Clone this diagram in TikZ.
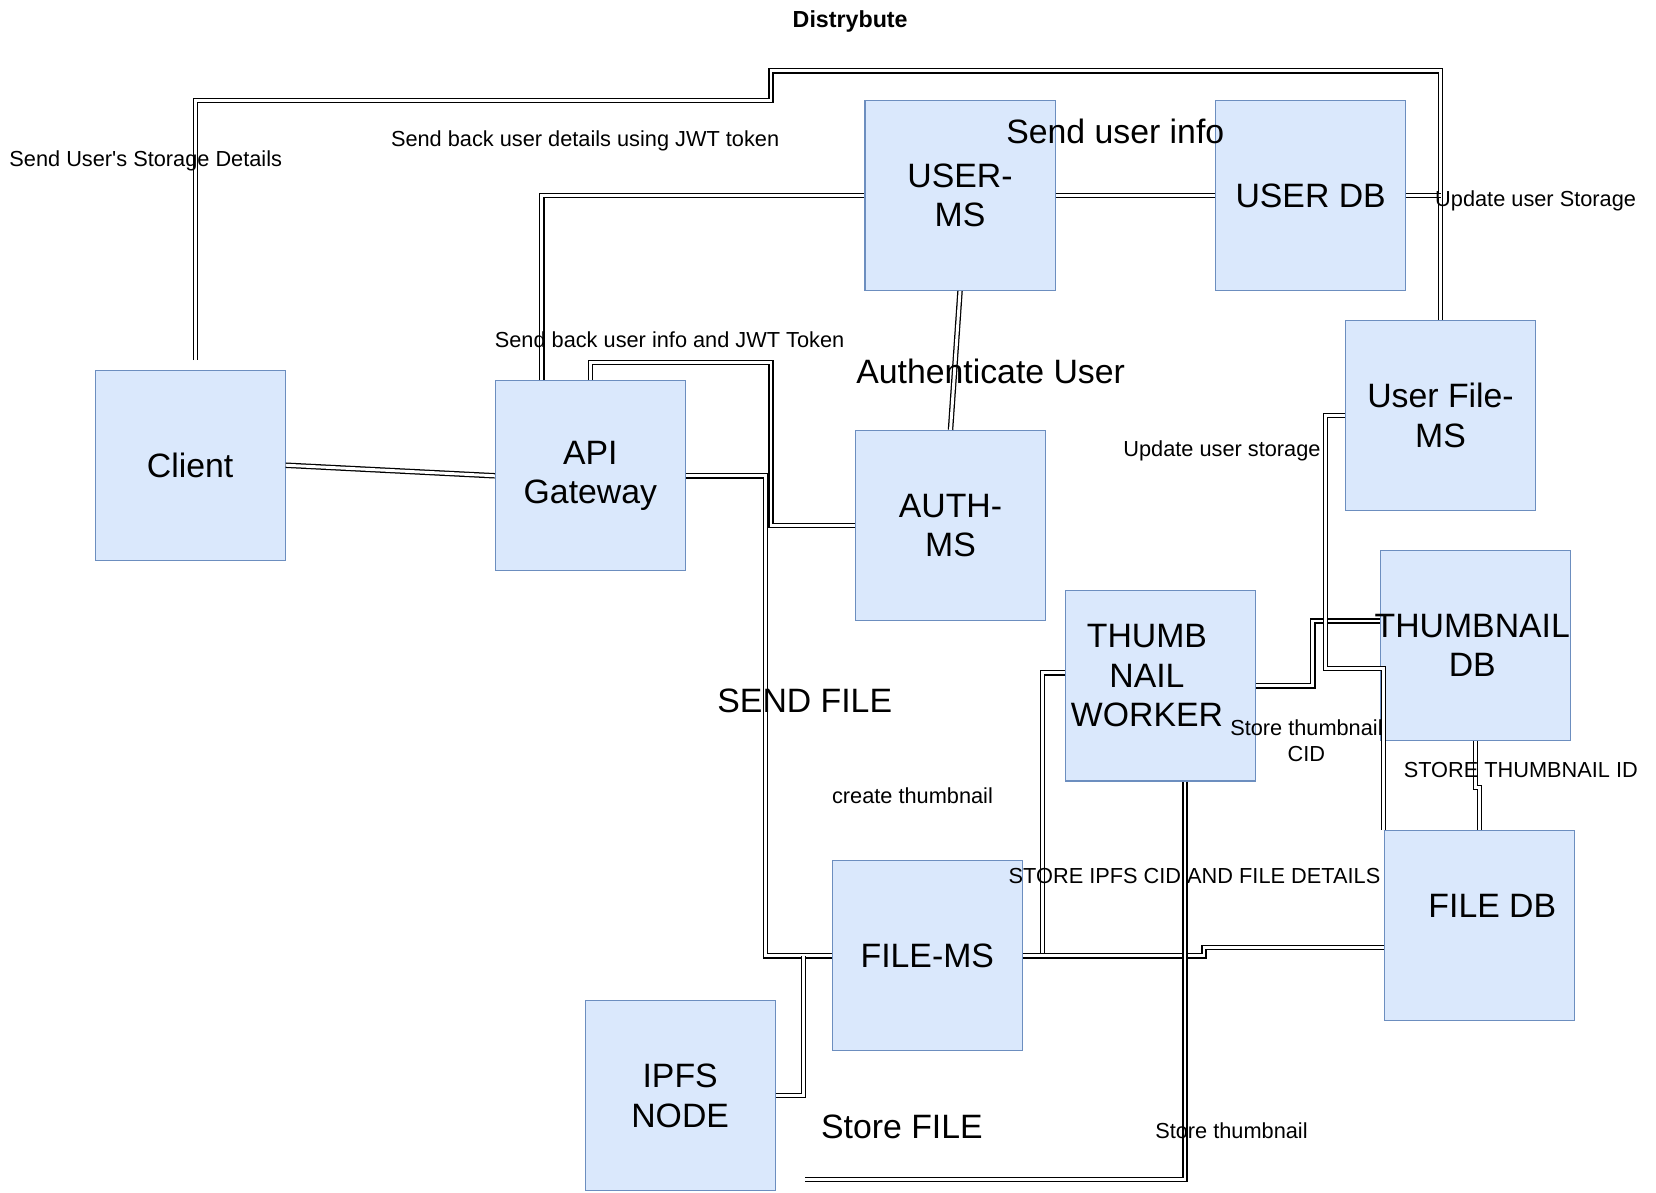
\documentclass[tikz,border=0pt]{standalone}
\usepackage{fontspec}
\setmainfont{Liberation Sans}
\newfontfamily\plainsans{Liberation Sans}
\usepackage{xcolor}
\definecolor{boxfill}{HTML}{DAE8FC}
\definecolor{boxline}{HTML}{6C8EBF}

\begin{document}
\begin{tikzpicture}[x=0.5pt,y=-0.5pt,
  svc/.style={draw=boxline, fill=boxfill, line width=0.5pt, minimum width=90pt, minimum height=90pt, inner sep=0pt, align=center, font=\fontsize{16}{18.75}\selectfont},
  labtxt/.style={align=center, font=\fontsize{16}{18.75}\selectfont, inner sep=0pt},
  link/.style={double, double distance=1.4pt, line width=0.6pt},
  smalltxt/.style={font=\fontsize{10.3}{12.2}\selectfont, align=center, inner sep=0pt},
  bigtxt/.style={font=\fontsize{16}{18.75}\selectfont, inner sep=0pt}]
  \useasboundingbox (0,0) rectangle (1568,1129);

  \node[font=\bfseries\fontsize{11}{13}\selectfont] (title) at (805,20) {Distrybute};

  \node[svc] (client) at (180,440.5) {Client};
  \node[svc] (api) at (559,450.5) {API\\Gateway};
  \node[svc] (userms) at (909,185) {USER-\\MS};
  \node[svc] (userdb) at (1241,185) {USER DB};
  \node[svc] (ufms) at (1364,393.5) {User File-\\MS};
  \node[svc] (auth) at (900,497.5) {AUTH-\\MS};
  \node[svc, label={[labtxt, xshift=-6.5pt, yshift=4.75pt]center:THUMB\\NAIL\\WORKER}] (worker) at (1099,649.5) {};
  \node[svc, label={[labtxt, xshift=-1.5pt]center:THUMBNAIL\\DB}] (thdb) at (1397,611) {};
  \node[svc, label={[labtxt, xshift=6pt, yshift=9.25pt]center:FILE DB}] (filedb) at (1401,876.5) {};
  \node[svc] (filems) at (878,905) {FILE-MS};
  \node[svc] (ipfs) at (644,1037.5) {IPFS\\NODE};

  \coordinate (cltop) at (185,341);
  \coordinate (storeend) at (762,1117);

  \draw[link] (cltop) |- (730,95) |- (ufms.north |- 0,67) -- (ufms.north);
  \draw[link] (api.north -| 513,0) |- (userms.west);
  \draw[link] (userms.east) -- (userdb.west);
  \draw[link] (userdb.east) -- (ufms.north |- userdb.east);
  \draw[link] (userms.south) -- (auth.north);
  \draw[link] (client.east) -- (api.west);
  \draw[link] (api.north) |- (730,343) |- (auth.west);
  \draw[link] (api.east) -| (filems.west -| 725,0) -- (filems.west);
  \draw[link] (ipfs.east) -| (filems.west -| 761,0);
  \draw[link] (filems.east) -| (987,637) -- (worker.west |- 0,637);
  \draw[link] (filems.east) -| (1140,897) -- (filedb.west |- 0,897);
  \draw[link] (worker.south -| 1122,0) |- (storeend);
  \draw[link] (worker.east) -| (1243,588) -- (thdb.west |- 0,588);
  \draw[link] (ufms.west) -| (1255,633) -| (filedb.north -| 1310,0);
  \draw[link] (thdb.south) -- ++(0,44) -| (filedb.north);

  \node[smalltxt] (l1) at (138,152) {Send User{\plainsans '}s Storage Details};
  \node[smalltxt] (l2) at (554,133) {Send back user details using JWT token};
  \node[bigtxt] (l3) at (1056,124) {Send user info};
  \node[smalltxt] (l4) at (1454,190) {Update user Storage};
  \node[smalltxt] (l5) at (634,322) {Send back user info and JWT Token};
  \node[bigtxt] (l6) at (938,352) {Authenticate User};
  \node[smalltxt] (l7) at (1157,427) {Update user storage};
  \node[bigtxt] (l8) at (762,664) {SEND FILE};
  \node[smalltxt] (l9) at (1237,701) {Store thumbnail\\CID};
  \node[smalltxt] (l10) at (1440,729) {STORE THUMBNAIL ID};
  \node[smalltxt] (l11) at (864,753) {create thumbnail};
  \node[smalltxt] (l12) at (1131,829) {STORE IPFS CID AND FILE DETAILS};
  \node[bigtxt] (l13) at (854,1067) {Store FILE};
  \node[smalltxt] (l14) at (1166,1071) {Store thumbnail};
\end{tikzpicture}
\end{document}
